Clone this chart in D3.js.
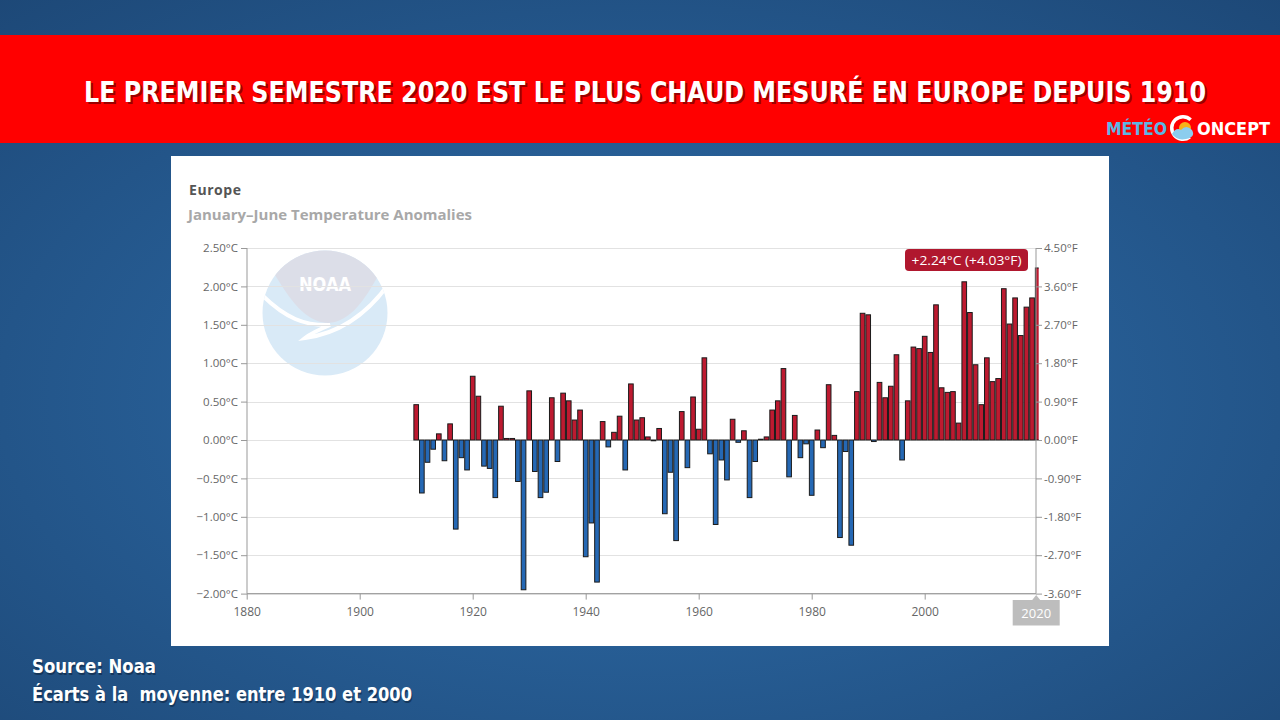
<!DOCTYPE html>
<html>
<head>
<meta charset="utf-8">
<script src="https://cdn.jsdelivr.net/npm/d3@7"></script>
<style>
  html, body { margin: 0; padding: 0; background: #23588f; }
  svg { display: block; }
</style>
</head>
<body>
<script>
// Europe, January–June temperature anomalies (°C), 1910 → 2020
const years = d3.range(1910, 2021);
const anomalies = [
  // 1910s
  0.46, -0.69, -0.29, -0.12, 0.08, -0.27, 0.21, -1.16, -0.23, -0.39,
  // 1920s
  0.83, 0.57, -0.34, -0.37, -0.75, 0.44, 0.02, 0.02, -0.54, -1.95,
  // 1930s
  0.64, -0.41, -0.75, -0.68, 0.55, -0.28, 0.61, 0.51, 0.26, 0.39,
  // 1940s
  -1.52, -1.08, -1.85, 0.24, -0.09, 0.10, 0.31, -0.39, 0.73, 0.26,
  // 1950s
  0.29, 0.04, -0.01, 0.15, -0.96, -0.42, -1.31, 0.37, -0.36, 0.56,
  // 1960s
  0.14, 1.07, -0.18, -1.10, -0.26, -0.52, 0.27, -0.03, 0.12, -0.75,
  // 1970s
  -0.28, 0.01, 0.04, 0.39, 0.51, 0.93, -0.48, 0.32, -0.23, -0.05,
  // 1980s
  -0.72, 0.13, -0.10, 0.72, 0.06, -1.27, -0.15, -1.37, 0.63, 1.65,
  // 1990s
  1.63, -0.02, 0.75, 0.55, 0.70, 1.11, -0.26, 0.51, 1.21, 1.19,
  // 2000s
  1.35, 1.14, 1.76, 0.68, 0.62, 0.63, 0.22, 2.06, 1.66, 0.98,
  // 2010s
  0.46, 1.07, 0.76, 0.80, 1.97, 1.51, 1.85, 1.36, 1.73, 1.85,
  // 2020
  2.24
];
const yTicksC = [2.5, 2.0, 1.5, 1.0, 0.5, 0.0, -0.5, -1.0, -1.5, -2.0];
const yTicksF = ["4.50°F", "3.60°F", "2.70°F", "1.80°F", "0.90°F", "0.00°F", "-0.90°F", "-1.80°F", "-2.70°F", "-3.60°F"];
const xTicks = [1880, 1900, 1920, 1940, 1960, 1980, 2000];
const highlightYear = 2020;
const highlightLabel = "+2.24°C (+4.03°F)";

const W = 1280, H = 720;
const svg = d3.select("body").append("svg").attr("width", W).attr("height", H);
const defs = svg.append("defs");

// background
const bg = defs.append("radialGradient").attr("id", "bg")
  .attr("cx", "50%").attr("cy", "55%").attr("r", "75%");
bg.append("stop").attr("offset", "0%").attr("stop-color", "#2f6fad");
bg.append("stop").attr("offset", "100%").attr("stop-color", "#1d4877");
svg.append("rect").attr("width", W).attr("height", H).attr("fill", "url(#bg)");

// red banner
svg.append("rect").attr("x", 0).attr("y", 35).attr("width", W).attr("height", 108).attr("fill", "#ff0000");
const title = "LE PREMIER SEMESTRE 2020 EST LE PLUS CHAUD MESURÉ EN EUROPE DEPUIS 1910";
[["#5a0000", 2], ["#ffffff", 0]].forEach(([c, o]) => {
  svg.append("text")
    .attr("x", 84 + o).attr("y", 102 + o)
    .attr("textLength", 1122).attr("lengthAdjust", "spacingAndGlyphs")
    .attr("font-family", "'DejaVu Sans Condensed', 'DejaVu Sans', sans-serif")
    .attr("font-weight", "bold").attr("font-size", 28)
    .attr("fill", c).attr("opacity", o ? 0.6 : 1)
    .text(title);
});

// logo
const logo = svg.append("g").attr("font-family", "'DejaVu Sans Condensed', sans-serif").attr("font-weight", "bold").attr("font-size", 17);
logo.append("text").attr("x", 1106).attr("y", 135).attr("fill", "#5cb6e4").attr("textLength", 61).attr("lengthAdjust", "spacingAndGlyphs").text("MÉTÉO");
logo.append("path").attr("d", d3.arc()({ innerRadius: 9.5, outerRadius: 13, startAngle: 2.5, endAngle: 2 * Math.PI + 0.75 }))
  .attr("transform", "translate(1183,128)").attr("fill", "#fff");
logo.append("circle").attr("cx", 1185).attr("cy", 128).attr("r", 6).attr("fill", "#f6b21a");
logo.append("path").attr("d", "M1172,134 q4,-7 9,-4 q5,-6 11,0 q4,7 -6,9 q-9,2 -14,-5 z").attr("fill", "#8ccdee");
logo.append("text").attr("x", 1197).attr("y", 135).attr("fill", "#fff").attr("textLength", 73).attr("lengthAdjust", "spacingAndGlyphs").text("ONCEPT");

// chart panel
svg.append("rect").attr("x", 171).attr("y", 156).attr("width", 938).attr("height", 490).attr("fill", "#fff");

svg.append("text").attr("x", 189).attr("y", 195)
  .attr("font-family", "'Open Sans', sans-serif").attr("font-weight", "bold").attr("font-size", 14)
  .attr("fill", "#555").attr("textLength", 52).text("Europe");
svg.append("text").attr("x", 188).attr("y", 220)
  .attr("font-family", "'Open Sans', sans-serif").attr("font-weight", "bold").attr("font-size", 14)
  .attr("fill", "#a8a8a8").attr("textLength", 284).attr("lengthAdjust", "spacingAndGlyphs")
  .text("January–June Temperature Anomalies");

// scales
const x = d3.scaleLinear().domain([1880, 2020]).range([246.7, 1037.7]);
const y = d3.scaleLinear().domain([-2, 2.5]).range([593.6, 248]);
const bw = x(1881) - x(1880);

// NOAA watermark
const wm = svg.append("g");
defs.append("clipPath").attr("id", "wmclip").append("circle").attr("cx", 325).attr("cy", 313).attr("r", 62.5);
wm.append("circle").attr("cx", 325).attr("cy", 313).attr("r", 62.5).attr("fill", "#d9eaf7");
wm.append("path").attr("clip-path", "url(#wmclip)")
  .attr("d", "M272,270 C290,300 305,322 328,323 C350,322 365,300 380,272 L380,240 L272,240 Z").attr("fill", "#dcdee8");
wm.append("path").attr("clip-path", "url(#wmclip)")
  .attr("d", "M262,295 C285,318 305,326 330,325 C318,330 310,334 305,338 C335,334 365,318 390,282")
  .attr("fill", "none").attr("stroke", "#fff").attr("stroke-width", 4);
wm.append("text").attr("x", 325).attr("y", 291).attr("text-anchor", "middle")
  .attr("font-family", "'DejaVu Sans Condensed', sans-serif").attr("font-weight", "bold").attr("font-size", 20)
  .attr("fill", "#fff").attr("textLength", 52).attr("lengthAdjust", "spacingAndGlyphs").text("NOAA");

// gridlines
svg.append("g").selectAll("line").data(yTicksC).join("line")
  .attr("x1", 247).attr("x2", 1036)
  .attr("y1", d => Math.round(y(d)) + 0.5).attr("y2", d => Math.round(y(d)) + 0.5)
  .attr("stroke", "#e2e2e2").attr("stroke-width", 1);

// bars
defs.append("clipPath").attr("id", "plot").append("rect")
  .attr("x", 247).attr("y", 240).attr("width", x(2020) + 1 - 247).attr("height", 360);
svg.append("g").attr("clip-path", "url(#plot)")
  .selectAll("rect").data(years.map((yr, i) => ({ yr, v: anomalies[i] }))).join("rect")
  .attr("x", d => x(d.yr) - bw / 2 + 0.5)
  .attr("width", bw - 1)
  .attr("y", d => y(Math.max(0, d.v)))
  .attr("height", d => Math.max(0.5, Math.abs(y(d.v) - y(0))))
  .attr("fill", d => d.v >= 0 ? "#bd1a30" : "#2568b4")
  .attr("stroke", "#1b1b1b").attr("stroke-width", 1);

// left axis
const axisFont = "'Open Sans', sans-serif";
const left = svg.append("g").attr("transform", "translate(247,0)")
  .call(d3.axisLeft(y).tickValues(yTicksC).tickSize(6).tickPadding(3).tickFormat(d => d3.format(".2f")(d) + "°C"));
left.select(".domain").attr("stroke", "#999").attr("d", `M0,${y(2.5)}V${y(-2)}`);
left.selectAll(".tick line").attr("stroke", "#999");
left.selectAll("text").attr("font-family", axisFont).attr("font-size", 11.5).attr("fill", "#666");

// right axis (°F)
const right = svg.append("g").attr("transform", "translate(1036,0)")
  .call(d3.axisRight(y).tickValues(yTicksC).tickSize(6).tickPadding(2).tickFormat((d, i) => yTicksF[i]));
right.select(".domain").attr("stroke", "#999").attr("d", `M0,${y(2.5)}V${y(-2)}`);
right.selectAll(".tick line").attr("stroke", "#999");
right.selectAll("text").attr("font-family", axisFont).attr("font-size", 11.5).attr("fill", "#666");

// bottom axis
const bottom = svg.append("g").attr("transform", `translate(0,${y(-2)})`)
  .call(d3.axisBottom(x).tickValues(xTicks).tickSize(6).tickPadding(8).tickFormat(d3.format("d")));
bottom.select(".domain").attr("stroke", "#999").attr("d", `M247,0H1036`);
bottom.selectAll(".tick line").attr("stroke", "#999");
bottom.selectAll("text").attr("font-family", axisFont).attr("font-size", 12).attr("fill", "#666");

// crosshair label for the highlighted year
const hx = x(highlightYear) - 1.5;
svg.append("path")
  .attr("d", `M${hx - 23.5},600 H${hx - 4} L${hx},595 L${hx + 4},600 H${hx + 23.5} V625.5 H${hx - 23.5} Z`)
  .attr("fill", "#bdbdbd");
svg.append("text").attr("x", hx).attr("y", 618).attr("text-anchor", "middle")
  .attr("font-family", axisFont).attr("font-size", 13).attr("fill", "#fff").text(highlightYear);

// tooltip
svg.append("rect").attr("x", 905).attr("y", 249).attr("width", 123).attr("height", 22).attr("rx", 4)
  .attr("fill", "#b0172e");
svg.append("text").attr("x", 966.5).attr("y", 265).attr("text-anchor", "middle")
  .attr("font-family", axisFont).attr("font-size", 13.5).attr("fill", "#fff")
  .attr("textLength", 110).attr("lengthAdjust", "spacingAndGlyphs").text(highlightLabel);

// footer
const foot = svg.append("g").attr("font-family", "'DejaVu Sans Condensed', sans-serif").attr("font-weight", "bold").attr("font-size", 19);
[["Source: Noaa", 673, 124], ["Écarts à la  moyenne: entre 1910 et 2000", 701, 380]].forEach(([t, yy, len]) => {
  foot.append("text").attr("x", 33).attr("y", yy + 1.5).attr("fill", "#0c2440").attr("opacity", 0.6)
    .attr("textLength", len).attr("lengthAdjust", "spacingAndGlyphs").attr("xml:space", "preserve").text(t);
  foot.append("text").attr("x", 32).attr("y", yy).attr("fill", "#fff")
    .attr("textLength", len).attr("lengthAdjust", "spacingAndGlyphs").attr("xml:space", "preserve").text(t);
});
</script>
</body>
</html>
